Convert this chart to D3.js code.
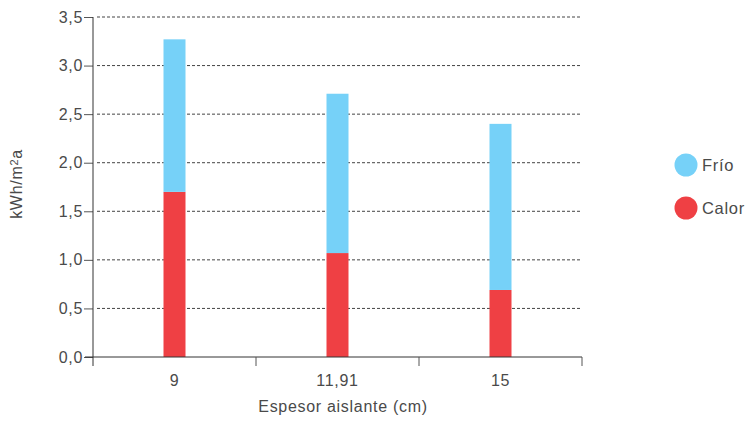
<!DOCTYPE html>
<html><head><meta charset="utf-8">
<script src="https://cdn.jsdelivr.net/npm/d3@7"></script>
<style>body{margin:0;background:#fff}svg{display:block}text{font-family:"Liberation Sans",Arial,sans-serif;letter-spacing:0.7px}</style>
</head><body>
<script>
const categories = ["9", "11,91", "15"];
const calor = [1.70, 1.07, 0.69];
const frio = [1.57, 1.64, 1.71];
const yTicks = [0, 0.5, 1, 1.5, 2, 2.5, 3, 3.5];
const seriesNames = ["Frío", "Calor"];
const colors = {"Frío": "#76d1f8", "Calor": "#ef4044"};

const W = 746, H = 422;
const svg = d3.select("body").append("svg").attr("width", W).attr("height", H);
const x0 = 93, x1 = 582, yTop = 17, yBot = 357;
const x = d3.scaleBand().domain(categories).range([x0, x1]);
const y = d3.scaleLinear().domain([0, 3.5]).range([yBot, yTop]);
const fmt = v => d3.format(".1f")(v).replace(".", ",");
const fs = "16px", txt = "#4a4a4a";

// gridlines
svg.append("g").selectAll("line").data(yTicks.filter(d => d > 0)).join("line")
  .attr("x1", x0 + 4).attr("x2", x1).attr("y1", d => y(d)).attr("y2", d => y(d))
  .attr("stroke", "#444").attr("stroke-width", 1).attr("stroke-dasharray", "3,2");

// bars
const barW = 22;
const stackData = categories.map((c, i) => ({c, calor: calor[i], frio: frio[i]}));
const stack = d3.stack().keys(["calor", "frio"])(stackData);
const keyName = {calor: "Calor", frio: "Frío"};
svg.append("g").selectAll("g").data(stack).join("g")
  .attr("fill", s => colors[keyName[s.key]])
  .selectAll("rect").data(s => s).join("rect")
  .attr("x", d => x(d.data.c) + x.bandwidth() / 2 - barW / 2)
  .attr("width", barW)
  .attr("y", d => y(d[1]))
  .attr("height", d => y(d[0]) - y(d[1]));

// y axis
const yAxis = svg.append("g").attr("transform", `translate(${x0},0)`)
  .call(d3.axisLeft(y).tickValues(yTicks).tickFormat(fmt).tickSize(9).tickPadding(1));
yAxis.select(".domain").remove();
yAxis.selectAll(".tick line").attr("stroke", "#555");
yAxis.selectAll(".tick text").attr("fill", txt).style("font-size", fs).attr("font-family", null);
svg.append("line").attr("x1", x0).attr("x2", x0).attr("y1", yTop).attr("y2", yBot + 9)
  .attr("stroke", "#333");

// x axis
svg.append("line").attr("x1", x0 - 8).attr("x2", x1).attr("y1", yBot).attr("y2", yBot).attr("stroke", "#333");
const bounds = categories.map(c => x(c)).concat([x1]).slice(1);
svg.append("g").selectAll("line").data(bounds).join("line")
  .attr("x1", d => d).attr("x2", d => d).attr("y1", yBot).attr("y2", yBot + 9)
  .attr("stroke", "#555");
svg.append("g").selectAll("text").data(categories).join("text")
  .attr("x", d => x(d) + x.bandwidth() / 2).attr("y", 386)
  .attr("text-anchor", "middle").attr("fill", txt).style("font-size", fs)
  .text(d => d);

// axis titles
svg.append("text").attr("x", 343).attr("y", 412).attr("text-anchor", "middle")
  .attr("fill", txt).style("font-size", fs).text("Espesor aislante (cm)");
svg.append("text").attr("transform", "translate(22,184) rotate(-90)").attr("text-anchor", "middle")
  .attr("fill", txt).style("font-size", fs)
  .html('kWh/m<tspan dy="-4" style="font-size:11px">2</tspan><tspan dy="4">a</tspan>');

// legend
const leg = svg.append("g").selectAll("g").data(seriesNames).join("g")
  .attr("transform", (d, i) => `translate(686,${165 + i * 43})`);
leg.append("circle").attr("r", 11.5).attr("fill", d => colors[d]);
leg.append("text").attr("x", 16).attr("y", 6).attr("fill", txt).style("font-size", "16.5px").text(d => d);
</script>
</body></html>
